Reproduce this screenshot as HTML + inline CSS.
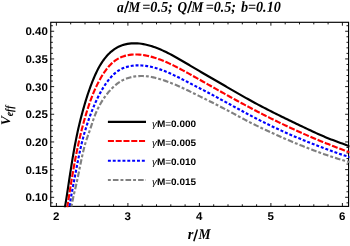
<!DOCTYPE html>
<html><head><meta charset="utf-8"><title>V_eff</title>
<style>
html,body{margin:0;padding:0;background:#fff;}
body{width:350px;height:246px;overflow:hidden;}
svg{display:block;will-change:transform}
text{text-rendering:geometricPrecision}
.cv{fill:none;stroke-width:2.15;stroke-linecap:butt;stroke-linejoin:round}
.tl text{font-family:'Liberation Sans',sans-serif;font-size:11.2px;font-weight:bold;fill:#000}
.ti{font-family:'Liberation Serif',serif;font-weight:bold;font-style:italic;fill:#000}
</style></head><body>
<svg width="350" height="246" viewBox="0 0 350 246">
<rect width="350" height="246" fill="#fff"/>
<defs><clipPath id="c"><rect x="49.90" y="21.45" width="299.52" height="185.80"/></clipPath></defs>
<text class="ti" transform="translate(117.09,11.65) rotate(0.03) scale(0.900,1)" style="font-size:15.0px">a</text><text class="ti" transform="translate(128.21,11.65) rotate(0.03) scale(0.901,1)" style="font-size:15.0px">M</text><text class="ti" transform="translate(142.17,11.65) rotate(0.03) scale(0.948,1)" style="font-size:15.0px">=0.5;</text><text class="ti" transform="translate(177.56,11.65) rotate(0.03) scale(0.881,1)" style="font-size:15.0px">Q</text><text class="ti" transform="translate(191.31,11.65) rotate(0.03) scale(0.908,1)" style="font-size:15.0px">M</text><text class="ti" transform="translate(205.67,11.65) rotate(0.03) scale(0.941,1)" style="font-size:15.0px">=0.5;</text><text class="ti" transform="translate(240.96,11.65) rotate(0.03) scale(0.941,1)" style="font-size:15.0px">b=0.10</text><path d="M124.6,12.9 L128.5,1.0" stroke="#000" stroke-width="1.45" fill="none"/><path d="M187.7,12.9 L191.6,1.0" stroke="#000" stroke-width="1.45" fill="none"/>
<path d="M107.9,121.9 H146.0" style="stroke:#000" class="cv"/><text transform="translate(151.9,126.65) scale(1.065,1)" style="font-family:'Liberation Sans',sans-serif;font-size:9.4px;font-weight:bold"><tspan style="font-style:italic;font-weight:normal">γ</tspan>M<tspan style="font-weight:normal">=</tspan>0.000</text><path d="M107.9,141.0 H146.0" style="stroke:#f00;stroke-dasharray:6.04 1.74" class="cv"/><text transform="translate(151.9,145.75) scale(1.065,1)" style="font-family:'Liberation Sans',sans-serif;font-size:9.4px;font-weight:bold"><tspan style="font-style:italic;font-weight:normal">γ</tspan>M<tspan style="font-weight:normal">=</tspan>0.005</text><path d="M107.9,160.7 H146.0" style="stroke:#00f;stroke-dasharray:2.95 1.9" class="cv"/><text transform="translate(151.9,165.45) scale(1.065,1)" style="font-family:'Liberation Sans',sans-serif;font-size:9.4px;font-weight:bold"><tspan style="font-style:italic;font-weight:normal">γ</tspan>M<tspan style="font-weight:normal">=</tspan>0.010</text><path d="M107.9,180.0 H146.0" style="stroke:#808080;stroke-dasharray:2.9 2.1 5.6 2" class="cv"/><text transform="translate(151.9,184.75) scale(1.065,1)" style="font-family:'Liberation Sans',sans-serif;font-size:9.4px;font-weight:bold"><tspan style="font-style:italic;font-weight:normal">γ</tspan>M<tspan style="font-weight:normal">=</tspan>0.015</text>
<path d="M56.40,206.4 v-3.4 M56.40,22.3 v3.4 M70.70,206.4 v-2.1 M70.70,22.3 v2.1 M85.00,206.4 v-2.1 M85.00,22.3 v2.1 M99.30,206.4 v-2.1 M99.30,22.3 v2.1 M113.60,206.4 v-2.1 M113.60,22.3 v2.1 M127.90,206.4 v-3.4 M127.90,22.3 v3.4 M142.20,206.4 v-2.1 M142.20,22.3 v2.1 M156.50,206.4 v-2.1 M156.50,22.3 v2.1 M170.80,206.4 v-2.1 M170.80,22.3 v2.1 M185.10,206.4 v-2.1 M185.10,22.3 v2.1 M199.40,206.4 v-3.4 M199.40,22.3 v3.4 M213.70,206.4 v-2.1 M213.70,22.3 v2.1 M228.00,206.4 v-2.1 M228.00,22.3 v2.1 M242.30,206.4 v-2.1 M242.30,22.3 v2.1 M256.60,206.4 v-2.1 M256.60,22.3 v2.1 M270.90,206.4 v-3.4 M270.90,22.3 v3.4 M285.20,206.4 v-2.1 M285.20,22.3 v2.1 M299.50,206.4 v-2.1 M299.50,22.3 v2.1 M313.80,206.4 v-2.1 M313.80,22.3 v2.1 M328.10,206.4 v-2.1 M328.10,22.3 v2.1 M342.40,206.4 v-3.4 M342.40,22.3 v3.4 M50.75,202.84 h2.1 M348.57,202.84 h-2.1 M50.75,197.30 h3.4 M348.57,197.30 h-3.4 M50.75,191.77 h2.1 M348.57,191.77 h-2.1 M50.75,186.23 h2.1 M348.57,186.23 h-2.1 M50.75,180.70 h2.1 M348.57,180.70 h-2.1 M50.75,175.16 h2.1 M348.57,175.16 h-2.1 M50.75,169.62 h3.4 M348.57,169.62 h-3.4 M50.75,164.09 h2.1 M348.57,164.09 h-2.1 M50.75,158.56 h2.1 M348.57,158.56 h-2.1 M50.75,153.02 h2.1 M348.57,153.02 h-2.1 M50.75,147.49 h2.1 M348.57,147.49 h-2.1 M50.75,141.95 h3.4 M348.57,141.95 h-3.4 M50.75,136.42 h2.1 M348.57,136.42 h-2.1 M50.75,130.88 h2.1 M348.57,130.88 h-2.1 M50.75,125.35 h2.1 M348.57,125.35 h-2.1 M50.75,119.81 h2.1 M348.57,119.81 h-2.1 M50.75,114.28 h3.4 M348.57,114.28 h-3.4 M50.75,108.74 h2.1 M348.57,108.74 h-2.1 M50.75,103.20 h2.1 M348.57,103.20 h-2.1 M50.75,97.67 h2.1 M348.57,97.67 h-2.1 M50.75,92.13 h2.1 M348.57,92.13 h-2.1 M50.75,86.60 h3.4 M348.57,86.60 h-3.4 M50.75,81.07 h2.1 M348.57,81.07 h-2.1 M50.75,75.53 h2.1 M348.57,75.53 h-2.1 M50.75,70.00 h2.1 M348.57,70.00 h-2.1 M50.75,64.46 h2.1 M348.57,64.46 h-2.1 M50.75,58.93 h3.4 M348.57,58.93 h-3.4 M50.75,53.39 h2.1 M348.57,53.39 h-2.1 M50.75,47.85 h2.1 M348.57,47.85 h-2.1 M50.75,42.32 h2.1 M348.57,42.32 h-2.1 M50.75,36.78 h2.1 M348.57,36.78 h-2.1 M50.75,31.25 h3.4 M348.57,31.25 h-3.4 M50.75,25.71 h2.1 M348.57,25.71 h-2.1" fill="none" stroke="#000" stroke-width="0.9"/>
<rect x="50.75" y="22.3" width="297.82" height="184.10" fill="none" stroke="#000" stroke-width="1.15"/>
<g clip-path="url(#c)"><path d="M63.53,215.20 L63.89,213.22 L64.24,211.24 L64.59,209.26 L64.93,207.28 L65.26,205.30 L65.59,203.31 L65.91,201.33 L66.23,199.35 L66.55,197.36 L66.86,195.38 L67.17,193.39 L67.47,191.41 L67.78,189.42 L68.08,187.44 L68.38,185.45 L68.68,183.46 L68.98,181.48 L69.28,179.49 L69.58,177.51 L69.88,175.52 L70.18,173.53 L70.48,171.55 L70.79,169.56 L71.10,167.58 L71.41,165.59 L71.73,163.61 L72.05,161.62 L72.37,159.64 L72.70,157.66 L73.04,155.68 L73.38,153.70 L73.72,151.72 L74.08,149.74 L74.44,147.76 L74.80,145.79 L75.18,143.81 L75.56,141.84 L75.95,139.87 L76.34,137.90 L76.75,135.93 L77.16,133.97 L77.58,132.01 L78.01,130.05 L78.46,128.09 L78.91,126.13 L79.37,124.18 L79.84,122.23 L80.33,120.28 L80.82,118.33 L81.33,116.38 L81.84,114.44 L82.37,112.49 L82.90,110.55 L83.44,108.61 L83.98,106.67 L84.54,104.74 L85.11,102.82 L85.69,100.90 L86.28,98.98 L86.88,97.07 L87.50,95.17 L88.13,93.27 L88.78,91.37 L89.44,89.48 L90.11,87.60 L90.81,85.72 L91.52,83.84 L92.25,81.96 L93.00,80.09 L93.77,78.23 L94.56,76.37 L95.38,74.53 L96.22,72.69 L97.10,70.88 L98.02,69.08 L98.97,67.31 L99.96,65.56 L101.00,63.84 L102.09,62.16 L103.22,60.51 L104.42,58.90 L105.66,57.33 L106.97,55.81 L108.34,54.33 L109.77,52.92 L111.27,51.57 L112.83,50.30 L114.45,49.12 L116.14,48.04 L117.89,47.07 L119.70,46.22 L121.56,45.48 L123.47,44.85 L125.41,44.33 L127.37,43.92 L129.36,43.62 L131.35,43.41 L133.34,43.31 L135.34,43.30 L137.33,43.38 L139.33,43.54 L141.32,43.78 L143.31,44.10 L145.29,44.49 L147.26,44.94 L149.22,45.45 L151.16,46.02 L153.09,46.64 L155.00,47.31 L156.89,48.02 L158.77,48.76 L160.62,49.54 L162.45,50.36 L164.27,51.20 L166.07,52.07 L167.86,52.97 L169.64,53.89 L171.41,54.82 L173.17,55.78 L174.92,56.75 L176.67,57.74 L178.41,58.73 L180.15,59.73 L181.88,60.74 L183.62,61.75 L185.35,62.77 L187.08,63.78 L188.82,64.80 L190.55,65.83 L192.28,66.85 L194.01,67.87 L195.75,68.89 L197.48,69.92 L199.21,70.94 L200.94,71.96 L202.68,72.98 L204.41,74.00 L206.15,75.01 L207.89,76.02 L209.62,77.03 L211.36,78.04 L213.10,79.04 L214.84,80.05 L216.58,81.05 L218.32,82.05 L220.06,83.05 L221.80,84.05 L223.54,85.05 L225.28,86.05 L227.02,87.06 L228.76,88.06 L230.50,89.06 L232.24,90.07 L233.98,91.08 L235.72,92.08 L237.46,93.09 L239.20,94.09 L240.94,95.09 L242.69,96.09 L244.43,97.08 L246.18,98.07 L247.93,99.06 L249.69,100.04 L251.44,101.02 L253.21,101.98 L254.97,102.94 L256.74,103.90 L258.51,104.84 L260.28,105.79 L262.06,106.72 L263.84,107.65 L265.63,108.57 L267.41,109.49 L269.20,110.40 L271.00,111.31 L272.79,112.22 L274.59,113.12 L276.38,114.01 L278.18,114.90 L279.99,115.79 L281.79,116.68 L283.60,117.56 L285.40,118.44 L287.21,119.32 L289.02,120.19 L290.83,121.06 L292.64,121.94 L294.45,122.81 L296.26,123.67 L298.07,124.54 L299.89,125.41 L301.70,126.28 L303.51,127.14 L305.33,128.01 L307.14,128.87 L308.96,129.73 L310.77,130.59 L312.59,131.44 L314.42,132.28 L316.24,133.12 L318.07,133.95 L319.91,134.76 L321.75,135.57 L323.59,136.36 L325.44,137.14 L327.30,137.90 L329.17,138.65 L331.04,139.39 L332.91,140.11 L334.79,140.82 L336.67,141.53 L338.56,142.22 L340.45,142.91 L342.34,143.59 L344.23,144.28 L346.12,144.96 L348.01,145.64 L349.90,146.32 L351.78,147.00" style="stroke:#000" class="cv"/><path d="M66.11,214.96 L66.40,213.05 L66.70,211.14 L67.00,209.23 L67.29,207.31 L67.59,205.40 L67.89,203.48 L68.18,201.56 L68.48,199.65 L68.78,197.73 L69.07,195.81 L69.37,193.90 L69.67,191.98 L69.98,190.06 L70.28,188.14 L70.59,186.22 L70.90,184.31 L71.21,182.39 L71.52,180.47 L71.84,178.56 L72.16,176.64 L72.49,174.72 L72.81,172.81 L73.14,170.89 L73.48,168.98 L73.82,167.07 L74.17,165.15 L74.51,163.24 L74.87,161.33 L75.23,159.42 L75.59,157.52 L75.97,155.61 L76.34,153.70 L76.73,151.80 L77.12,149.90 L77.51,148.00 L77.92,146.10 L78.33,144.20 L78.74,142.30 L79.17,140.41 L79.60,138.52 L80.04,136.63 L80.49,134.74 L80.95,132.86 L81.42,130.97 L81.89,129.09 L82.38,127.21 L82.87,125.34 L83.38,123.46 L83.89,121.59 L84.41,119.72 L84.95,117.86 L85.49,116.00 L86.05,114.14 L86.61,112.28 L87.19,110.43 L87.78,108.58 L88.38,106.73 L88.99,104.89 L89.62,103.05 L90.27,101.22 L90.93,99.39 L91.61,97.58 L92.31,95.77 L93.03,93.96 L93.77,92.17 L94.53,90.39 L95.32,88.61 L96.13,86.85 L96.96,85.10 L97.83,83.36 L98.72,81.64 L99.64,79.92 L100.59,78.23 L101.58,76.55 L102.60,74.89 L103.66,73.25 L104.75,71.63 L105.89,70.04 L107.08,68.48 L108.32,66.97 L109.61,65.52 L110.96,64.13 L112.37,62.81 L113.85,61.57 L115.40,60.42 L117.00,59.36 L118.67,58.40 L120.38,57.54 L122.15,56.78 L123.97,56.15 L125.82,55.62 L127.71,55.20 L129.63,54.89 L131.56,54.67 L133.51,54.53 L135.46,54.49 L137.40,54.52 L139.34,54.62 L141.27,54.79 L143.19,55.04 L145.11,55.34 L147.02,55.70 L148.92,56.12 L150.81,56.59 L152.69,57.11 L154.56,57.68 L156.41,58.28 L158.26,58.92 L160.09,59.60 L161.91,60.30 L163.71,61.03 L165.50,61.79 L167.27,62.57 L169.04,63.37 L170.79,64.20 L172.54,65.04 L174.27,65.89 L176.00,66.77 L177.72,67.65 L179.44,68.55 L181.15,69.46 L182.86,70.38 L184.56,71.30 L186.26,72.23 L187.96,73.16 L189.66,74.10 L191.36,75.04 L193.05,75.99 L194.75,76.94 L196.44,77.89 L198.14,78.84 L199.83,79.80 L201.52,80.76 L203.21,81.71 L204.90,82.67 L206.59,83.63 L208.28,84.59 L209.97,85.55 L211.66,86.51 L213.35,87.46 L215.05,88.42 L216.74,89.37 L218.43,90.33 L220.12,91.28 L221.82,92.23 L223.51,93.18 L225.20,94.13 L226.90,95.07 L228.60,96.02 L230.29,96.96 L231.99,97.90 L233.69,98.84 L235.39,99.77 L237.09,100.70 L238.80,101.64 L240.50,102.56 L242.21,103.49 L243.92,104.41 L245.63,105.33 L247.34,106.25 L249.05,107.16 L250.76,108.07 L252.48,108.98 L254.20,109.88 L255.92,110.78 L257.64,111.68 L259.36,112.57 L261.09,113.46 L262.82,114.34 L264.55,115.22 L266.28,116.10 L268.02,116.97 L269.75,117.84 L271.49,118.71 L273.23,119.57 L274.97,120.43 L276.72,121.28 L278.46,122.13 L280.21,122.97 L281.96,123.81 L283.71,124.65 L285.47,125.48 L287.23,126.31 L288.98,127.14 L290.74,127.96 L292.51,128.77 L294.27,129.58 L296.04,130.39 L297.81,131.19 L299.58,131.99 L301.35,132.78 L303.12,133.57 L304.90,134.36 L306.68,135.13 L308.46,135.91 L310.24,136.68 L312.03,137.45 L313.81,138.21 L315.60,138.96 L317.39,139.71 L319.18,140.46 L320.98,141.20 L322.77,141.94 L324.57,142.67 L326.37,143.40 L328.17,144.12 L329.98,144.84 L331.78,145.55 L333.59,146.26 L335.40,146.96 L337.21,147.66 L339.03,148.35 L340.84,149.04 L342.66,149.72 L344.48,150.39 L346.30,151.06 L348.12,151.73 L349.95,152.39 L351.78,153.04" style="stroke:#f00;stroke-dasharray:6.04 1.74;stroke-dashoffset:0.5" class="cv"/><path d="M68.35,214.59 L68.73,212.75 L69.06,210.91 L69.34,209.06 L69.60,207.20 L69.84,205.35 L70.08,203.49 L70.33,201.64 L70.60,199.78 L70.89,197.94 L71.21,196.09 L71.54,194.25 L71.88,192.41 L72.23,190.57 L72.58,188.74 L72.93,186.90 L73.28,185.06 L73.63,183.22 L73.97,181.38 L74.32,179.54 L74.67,177.71 L75.02,175.87 L75.37,174.03 L75.72,172.19 L76.07,170.35 L76.42,168.51 L76.78,166.68 L77.14,164.84 L77.50,163.00 L77.86,161.16 L78.23,159.33 L78.60,157.49 L78.98,155.66 L79.36,153.83 L79.75,151.99 L80.15,150.16 L80.56,148.34 L80.97,146.51 L81.40,144.69 L81.84,142.87 L82.28,141.05 L82.75,139.24 L83.22,137.43 L83.71,135.63 L84.21,133.83 L84.73,132.03 L85.26,130.23 L85.80,128.44 L86.35,126.66 L86.92,124.88 L87.51,123.10 L88.11,121.33 L88.72,119.56 L89.34,117.79 L89.98,116.03 L90.63,114.27 L91.30,112.52 L91.98,110.77 L92.68,109.03 L93.39,107.30 L94.12,105.57 L94.87,103.85 L95.63,102.14 L96.42,100.44 L97.22,98.75 L98.05,97.07 L98.89,95.41 L99.76,93.76 L100.65,92.12 L101.57,90.50 L102.51,88.89 L103.48,87.30 L104.48,85.72 L105.51,84.17 L106.58,82.64 L107.70,81.14 L108.85,79.65 L110.06,78.20 L111.32,76.78 L112.63,75.41 L113.99,74.09 L115.41,72.85 L116.89,71.70 L118.42,70.64 L120.02,69.69 L121.66,68.84 L123.35,68.10 L125.09,67.45 L126.86,66.89 L128.66,66.43 L130.49,66.05 L132.34,65.76 L134.21,65.55 L136.09,65.42 L137.97,65.36 L139.85,65.38 L141.72,65.46 L143.59,65.61 L145.45,65.83 L147.29,66.10 L149.13,66.43 L150.96,66.81 L152.78,67.24 L154.59,67.71 L156.39,68.23 L158.18,68.79 L159.96,69.39 L161.72,70.02 L163.48,70.68 L165.23,71.37 L166.96,72.08 L168.68,72.81 L170.40,73.57 L172.10,74.34 L173.80,75.13 L175.49,75.93 L177.17,76.75 L178.85,77.57 L180.52,78.41 L182.19,79.26 L183.85,80.11 L185.51,80.96 L187.18,81.82 L188.84,82.68 L190.50,83.54 L192.16,84.40 L193.83,85.26 L195.49,86.11 L197.15,86.97 L198.82,87.83 L200.48,88.69 L202.14,89.55 L203.81,90.41 L205.47,91.27 L207.13,92.14 L208.79,93.01 L210.44,93.88 L212.10,94.75 L213.75,95.63 L215.40,96.51 L217.05,97.40 L218.70,98.29 L220.35,99.18 L221.99,100.07 L223.64,100.96 L225.28,101.86 L226.93,102.75 L228.57,103.65 L230.21,104.55 L231.85,105.45 L233.50,106.34 L235.14,107.24 L236.78,108.14 L238.43,109.03 L240.07,109.92 L241.72,110.81 L243.36,111.70 L245.01,112.59 L246.66,113.47 L248.31,114.35 L249.97,115.23 L251.62,116.10 L253.28,116.97 L254.94,117.83 L256.61,118.69 L258.27,119.54 L259.94,120.39 L261.61,121.23 L263.29,122.06 L264.96,122.89 L266.65,123.72 L268.33,124.54 L270.01,125.35 L271.70,126.16 L273.39,126.96 L275.09,127.76 L276.78,128.55 L278.48,129.34 L280.19,130.12 L281.89,130.89 L283.60,131.67 L285.30,132.43 L287.02,133.19 L288.73,133.95 L290.44,134.69 L292.16,135.44 L293.88,136.18 L295.60,136.91 L297.33,137.64 L299.06,138.36 L300.78,139.08 L302.51,139.79 L304.25,140.50 L305.98,141.21 L307.72,141.90 L309.45,142.60 L311.19,143.29 L312.94,143.97 L314.68,144.65 L316.42,145.33 L318.17,146.00 L319.92,146.67 L321.67,147.33 L323.42,147.99 L325.17,148.65 L326.92,149.31 L328.68,149.96 L330.43,150.61 L332.19,151.26 L333.95,151.90 L335.71,152.53 L337.48,153.15 L339.25,153.76 L341.02,154.37 L342.80,154.96 L344.58,155.53 L346.36,156.09 L348.15,156.63 L349.95,157.16 L351.75,157.67" style="stroke:#00f;stroke-dasharray:2.95 1.9;stroke-dashoffset:1.1" class="cv"/><path d="M69.27,213.48 L69.93,211.79 L70.49,210.07 L70.97,208.33 L71.39,206.58 L71.77,204.82 L72.12,203.05 L72.46,201.28 L72.81,199.51 L73.16,197.75 L73.54,195.98 L73.93,194.22 L74.35,192.47 L74.77,190.71 L75.19,188.96 L75.60,187.20 L76.01,185.45 L76.40,183.69 L76.79,181.93 L77.18,180.17 L77.55,178.41 L77.93,176.65 L78.30,174.88 L78.66,173.12 L79.02,171.35 L79.38,169.58 L79.74,167.82 L80.10,166.05 L80.45,164.28 L80.81,162.50 L81.17,160.73 L81.54,158.96 L81.91,157.19 L82.29,155.43 L82.68,153.67 L83.09,151.91 L83.51,150.15 L83.95,148.40 L84.41,146.66 L84.89,144.93 L85.39,143.20 L85.92,141.48 L86.47,139.77 L87.05,138.07 L87.64,136.37 L88.24,134.67 L88.85,132.97 L89.46,131.28 L90.06,129.57 L90.64,127.86 L91.21,126.14 L91.77,124.41 L92.33,122.69 L92.90,120.97 L93.49,119.25 L94.09,117.55 L94.72,115.86 L95.39,114.19 L96.08,112.53 L96.81,110.89 L97.56,109.27 L98.35,107.66 L99.18,106.07 L100.03,104.50 L100.92,102.94 L101.85,101.41 L102.81,99.88 L103.80,98.38 L104.83,96.90 L105.90,95.43 L107.01,93.98 L108.15,92.56 L109.33,91.16 L110.55,89.80 L111.81,88.48 L113.10,87.21 L114.44,85.98 L115.81,84.81 L117.23,83.69 L118.68,82.64 L120.18,81.66 L121.71,80.75 L123.29,79.92 L124.91,79.17 L126.57,78.51 L128.26,77.93 L129.98,77.43 L131.73,77.00 L133.49,76.66 L135.28,76.39 L137.08,76.19 L138.89,76.06 L140.71,76.00 L142.53,76.01 L144.34,76.08 L146.15,76.22 L147.95,76.42 L149.73,76.68 L151.50,77.00 L153.27,77.36 L155.02,77.76 L156.77,78.21 L158.50,78.69 L160.23,79.19 L161.95,79.72 L163.67,80.28 L165.38,80.86 L167.08,81.46 L168.77,82.08 L170.46,82.72 L172.14,83.39 L173.81,84.07 L175.47,84.77 L177.12,85.48 L178.77,86.21 L180.42,86.95 L182.06,87.71 L183.69,88.47 L185.32,89.25 L186.95,90.03 L188.57,90.81 L190.19,91.61 L191.81,92.40 L193.43,93.20 L195.05,93.99 L196.67,94.79 L198.29,95.59 L199.91,96.39 L201.52,97.19 L203.14,97.99 L204.76,98.79 L206.37,99.59 L207.98,100.40 L209.60,101.20 L211.21,102.01 L212.82,102.82 L214.43,103.64 L216.04,104.45 L217.65,105.27 L219.25,106.09 L220.86,106.92 L222.46,107.75 L224.06,108.58 L225.66,109.42 L227.25,110.26 L228.85,111.11 L230.44,111.95 L232.03,112.81 L233.62,113.66 L235.21,114.52 L236.79,115.37 L238.38,116.23 L239.97,117.08 L241.56,117.94 L243.15,118.79 L244.74,119.64 L246.34,120.48 L247.94,121.31 L249.54,122.14 L251.15,122.95 L252.76,123.76 L254.38,124.56 L256.00,125.36 L257.62,126.14 L259.25,126.93 L260.88,127.70 L262.51,128.48 L264.14,129.25 L265.77,130.02 L267.40,130.78 L269.04,131.54 L270.68,132.30 L272.32,133.05 L273.96,133.80 L275.60,134.54 L277.25,135.28 L278.89,136.02 L280.54,136.75 L282.19,137.48 L283.85,138.20 L285.50,138.92 L287.16,139.64 L288.81,140.35 L290.47,141.05 L292.14,141.75 L293.80,142.45 L295.46,143.15 L297.13,143.83 L298.80,144.52 L300.47,145.20 L302.15,145.87 L303.82,146.54 L305.50,147.21 L307.18,147.87 L308.86,148.52 L310.54,149.17 L312.23,149.82 L313.91,150.46 L315.60,151.09 L317.29,151.72 L318.99,152.34 L320.68,152.95 L322.38,153.56 L324.08,154.16 L325.79,154.75 L327.49,155.34 L329.20,155.91 L330.91,156.48 L332.63,157.04 L334.35,157.60 L336.07,158.14 L337.79,158.68 L339.51,159.20 L341.24,159.72 L342.97,160.23 L344.71,160.72 L346.44,161.21 L348.18,161.69 L349.93,162.15 L351.67,162.61" style="stroke:#808080;stroke-dasharray:2.9 2.1 5.6 2;stroke-dashoffset:5.3" class="cv"/></g>
<g class="tl"><text transform="translate(47.9,201.35) scale(1.03,1)" text-anchor="end">0.10</text><text transform="translate(47.9,173.68) scale(1.03,1)" text-anchor="end">0.15</text><text transform="translate(47.9,146.00) scale(1.03,1)" text-anchor="end">0.20</text><text transform="translate(47.9,118.33) scale(1.03,1)" text-anchor="end">0.25</text><text transform="translate(47.9,90.65) scale(1.03,1)" text-anchor="end">0.30</text><text transform="translate(47.9,62.98) scale(1.03,1)" text-anchor="end">0.35</text><text transform="translate(47.9,35.30) scale(1.03,1)" text-anchor="end">0.40</text><text transform="translate(56.10,219.8) scale(1.03,1)" text-anchor="middle">2</text><text transform="translate(127.60,219.8) scale(1.03,1)" text-anchor="middle">3</text><text transform="translate(199.10,219.8) scale(1.03,1)" text-anchor="middle">4</text><text transform="translate(270.60,219.8) scale(1.03,1)" text-anchor="middle">5</text><text transform="translate(342.10,219.8) scale(1.03,1)" text-anchor="middle">6</text></g>
<text class="ti" transform="translate(187.63,238.9) rotate(0.03) scale(0.964,1)" style="font-size:15.0px">r</text><text class="ti" transform="translate(198.41,238.9) rotate(0.03) scale(0.908,1)" style="font-size:15.0px">M</text><path d="M193.8,241.2 L197.4,229.5" stroke="#000" stroke-width="1.45" fill="none"/>
<text class="ti" transform="translate(10.0,125.3) rotate(-90) scale(1.02,1)" style="font-size:13.3px">V</text><text class="ti" transform="translate(12.6,116.3) rotate(-90) scale(0.88,1)" style="font-size:11.2px">eff</text>
</svg>
</body></html>
